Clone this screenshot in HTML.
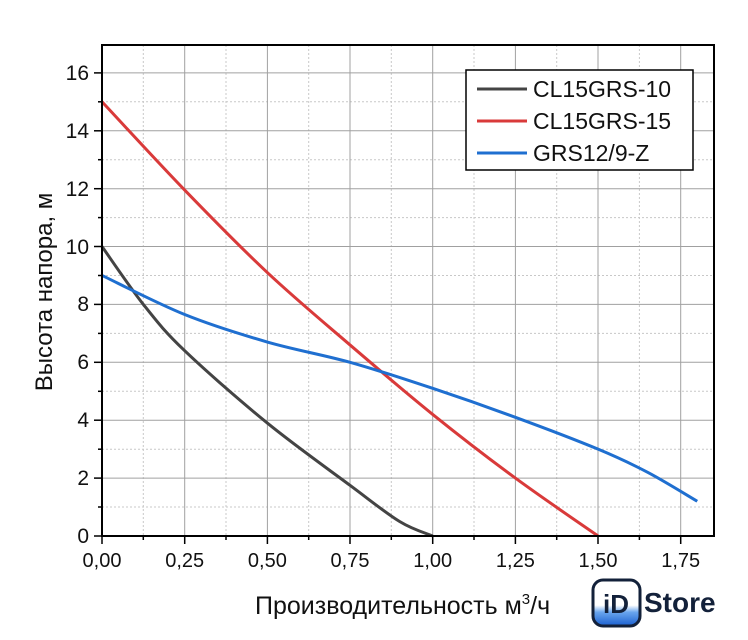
<!DOCTYPE html><html><head><meta charset="utf-8"><style>body{margin:0;background:#fff}svg{display:block}text{font-family:"Liberation Sans",sans-serif;fill:#111}</style></head><body>
<svg width="748" height="640" viewBox="0 0 748 640">
<g stroke="#c8c8c8" stroke-width="1" stroke-dasharray="2,2">
<line x1="143.3" y1="45" x2="143.3" y2="536"/><line x1="226" y1="45" x2="226" y2="536"/><line x1="308.7" y1="45" x2="308.7" y2="536"/><line x1="391.3" y1="45" x2="391.3" y2="536"/><line x1="474" y1="45" x2="474" y2="536"/><line x1="556.7" y1="45" x2="556.7" y2="536"/><line x1="639.4" y1="45" x2="639.4" y2="536"/>
<line x1="102" y1="507" x2="714" y2="507"/><line x1="102" y1="449.2" x2="714" y2="449.2"/><line x1="102" y1="391.3" x2="714" y2="391.3"/><line x1="102" y1="333.4" x2="714" y2="333.4"/><line x1="102" y1="275.5" x2="714" y2="275.5"/><line x1="102" y1="217.6" x2="714" y2="217.6"/><line x1="102" y1="159.7" x2="714" y2="159.7"/><line x1="102" y1="101.8" x2="714" y2="101.8"/>
</g>
<g stroke="#a0a0a0" stroke-width="1">
<line x1="184.7" y1="45" x2="184.7" y2="536"/><line x1="267.4" y1="45" x2="267.4" y2="536"/><line x1="350" y1="45" x2="350" y2="536"/><line x1="432.7" y1="45" x2="432.7" y2="536"/><line x1="515.4" y1="45" x2="515.4" y2="536"/><line x1="598" y1="45" x2="598" y2="536"/><line x1="680.7" y1="45" x2="680.7" y2="536"/>
<line x1="102" y1="478.1" x2="714" y2="478.1"/><line x1="102" y1="420.2" x2="714" y2="420.2"/><line x1="102" y1="362.3" x2="714" y2="362.3"/><line x1="102" y1="304.4" x2="714" y2="304.4"/><line x1="102" y1="246.5" x2="714" y2="246.5"/><line x1="102" y1="188.7" x2="714" y2="188.7"/><line x1="102" y1="130.8" x2="714" y2="130.8"/><line x1="102" y1="72.9" x2="714" y2="72.9"/>
</g>
<g fill="none" stroke-width="3" stroke-linejoin="round">
<path id="pk" stroke="#444"/>
<path id="pr" stroke="#d93a3a"/>
<path id="pb" stroke="#1f6fd0"/>
</g>
<rect x="102" y="45" width="612" height="491" fill="none" stroke="#000" stroke-width="2"/>
<g stroke="#000" stroke-width="1.5">
<line x1="102" y1="536" x2="102" y2="544"/><line x1="184.7" y1="536" x2="184.7" y2="544"/><line x1="267.4" y1="536" x2="267.4" y2="544"/><line x1="350" y1="536" x2="350" y2="544"/><line x1="432.7" y1="536" x2="432.7" y2="544"/><line x1="515.4" y1="536" x2="515.4" y2="544"/><line x1="598" y1="536" x2="598" y2="544"/><line x1="680.7" y1="536" x2="680.7" y2="544"/>
<line x1="143.3" y1="536" x2="143.3" y2="540"/><line x1="226" y1="536" x2="226" y2="540"/><line x1="308.7" y1="536" x2="308.7" y2="540"/><line x1="391.3" y1="536" x2="391.3" y2="540"/><line x1="474" y1="536" x2="474" y2="540"/><line x1="556.7" y1="536" x2="556.7" y2="540"/><line x1="639.4" y1="536" x2="639.4" y2="540"/>
<line x1="94" y1="536" x2="102" y2="536"/><line x1="94" y1="478.1" x2="102" y2="478.1"/><line x1="94" y1="420.2" x2="102" y2="420.2"/><line x1="94" y1="362.3" x2="102" y2="362.3"/><line x1="94" y1="304.4" x2="102" y2="304.4"/><line x1="94" y1="246.5" x2="102" y2="246.5"/><line x1="94" y1="188.7" x2="102" y2="188.7"/><line x1="94" y1="130.8" x2="102" y2="130.8"/><line x1="94" y1="72.9" x2="102" y2="72.9"/>
<line x1="98" y1="507" x2="102" y2="507"/><line x1="98" y1="449.2" x2="102" y2="449.2"/><line x1="98" y1="391.3" x2="102" y2="391.3"/><line x1="98" y1="333.4" x2="102" y2="333.4"/><line x1="98" y1="275.5" x2="102" y2="275.5"/><line x1="98" y1="217.6" x2="102" y2="217.6"/><line x1="98" y1="159.7" x2="102" y2="159.7"/><line x1="98" y1="101.8" x2="102" y2="101.8"/>
</g>
<g font-size="21" text-anchor="end">
<text x="89" y="543">0</text><text x="89" y="485">2</text><text x="89" y="427">4</text><text x="89" y="369">6</text><text x="89" y="311">8</text><text x="89" y="254">10</text><text x="89" y="196">12</text><text x="89" y="138">14</text><text x="89" y="80">16</text>
</g>
<g font-size="20" text-anchor="middle">
<text x="102" y="567">0,00</text><text x="184.7" y="567">0,25</text><text x="267.4" y="567">0,50</text><text x="350" y="567">0,75</text><text x="432.7" y="567">1,00</text><text x="515.4" y="567">1,25</text><text x="598" y="567">1,50</text><text x="680.7" y="567">1,75</text>
</g>
<text x="255" y="614" font-size="25">Производительность м<tspan font-size="15" dy="-10">3</tspan><tspan dy="10">/ч</tspan></text>
<text transform="translate(52,292) rotate(-90)" font-size="24" text-anchor="middle">Высота напора, м</text>
<rect x="466" y="70" width="227" height="100" fill="#fff" stroke="#000" stroke-width="1.5"/>
<g stroke-width="3"><line x1="477" y1="89" x2="527" y2="89" stroke="#444"/><line x1="477" y1="121" x2="527" y2="121" stroke="#d93a3a"/><line x1="477" y1="153" x2="527" y2="153" stroke="#1f6fd0"/></g>
<g font-size="23"><text x="533" y="97">CL15GRS-10</text><text x="533" y="129">CL15GRS-15</text><text x="533" y="161">GRS12/9-Z</text></g>
<defs><linearGradient id="g" x1="0" y1="0" x2="0" y2="1"><stop offset="0.55" stop-color="#fff"/><stop offset="0.7" stop-color="#6aa6ee"/><stop offset="1" stop-color="#1a5fd0"/></linearGradient></defs>
<rect x="593" y="580" width="47" height="46" rx="10" fill="url(#g)" stroke="#13213a" stroke-width="3"/>
<text x="616" y="613" font-size="26" font-weight="bold" text-anchor="middle" style="fill:#13213a">iD</text>
<text x="644" y="612" font-size="28" font-weight="bold" style="fill:#13213a">Store</text>
</svg>
<script>
function px(p){return [102+p[0]*330.7,536-p[1]*28.95];}
function cr(pts){var P=pts.map(px),d="M"+P[0][0]+","+P[0][1];for(var i=0;i<P.length-1;i++){var p0=P[i-1]||P[i],p1=P[i],p2=P[i+1],p3=P[i+2]||p2;var c1=[p1[0]+(p2[0]-p0[0])/6,p1[1]+(p2[1]-p0[1])/6],c2=[p2[0]-(p3[0]-p1[0])/6,p2[1]-(p3[1]-p1[1])/6];d+=" C"+c1+" "+c2+" "+p2;}return d;}
document.getElementById("pk").setAttribute("d",cr([[0,10],[0.125,8.0],[0.25,6.4],[0.5,3.9],[0.75,1.75],[0.9,0.5],[1.0,0]]));
document.getElementById("pr").setAttribute("d",cr([[0,15],[0.25,11.95],[0.5,9.1],[0.75,6.6],[1.0,4.2],[1.25,2.0],[1.5,0]]));
document.getElementById("pb").setAttribute("d",cr([[0,9],[0.25,7.65],[0.5,6.7],[0.75,6.0],[1.0,5.1],[1.25,4.1],[1.5,3.0],[1.65,2.2],[1.8,1.2]]));
</script>
</body></html>
